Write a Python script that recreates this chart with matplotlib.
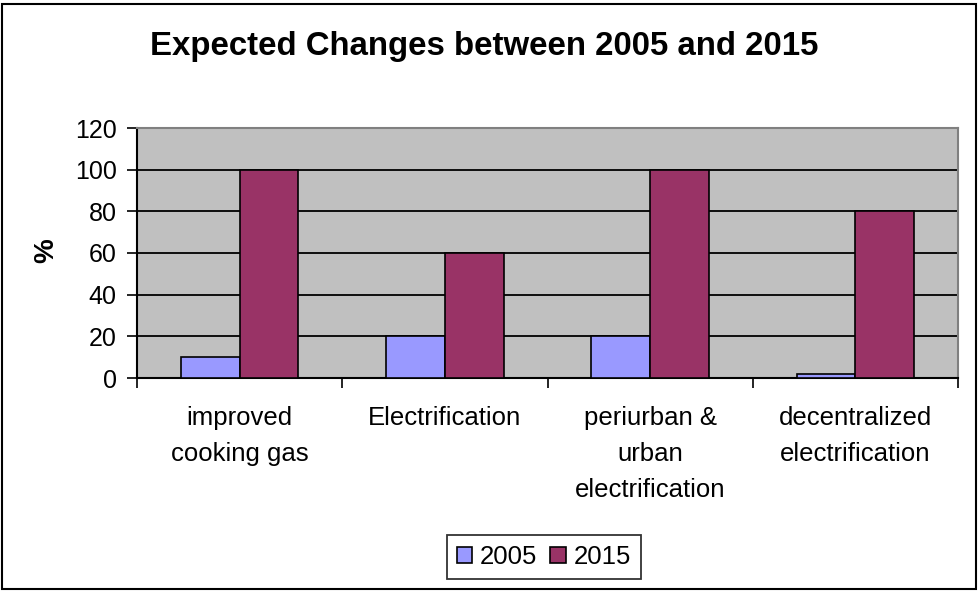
import matplotlib
matplotlib.use("Agg")
import matplotlib.pyplot as plt
import numpy as np
from matplotlib.patches import Rectangle

categories = ["improved\ncooking gas", "Electrification", "periurban &\nurban\nelectrification", "decentralized\nelectrification"]
series_names = ["2005", "2015"]
values_2005 = [10, 20, 20, 2]
values_2015 = [100, 60, 100, 80]
yticks = [0, 20, 40, 60, 80, 100, 120]

plt.rcParams['font.family'] = ['Liberation Sans', 'DejaVu Sans']

fig = plt.figure(figsize=(9.8, 5.91), dpi=100)
ax = fig.add_axes([137/980, 1-378/591, (958-137)/980, (378-128)/591])
ax.set_facecolor('#C0C0C0')

n = len(categories)
x = np.arange(n)
w = 1/3.5
ax.bar(x - w/2, values_2005, w, color='#9999FF', edgecolor='black', linewidth=1.2, label=series_names[0], zorder=3)
ax.bar(x + w/2, values_2015, w, color='#993366', edgecolor='black', linewidth=1.2, label=series_names[1], zorder=3)

ax.set_xlim(-0.5, n-0.5)
ax.set_ylim(0, 120)
ax.set_yticks(yticks)
ax.tick_params(axis='y', labelsize=18, direction='out', length=7, width=1.2, pad=7.5)
ax.yaxis.grid(True, color='black', linewidth=1.3, zorder=1)
ax.set_axisbelow(True)

ax.set_xticks(np.arange(-0.5, n, 1))
ax.set_xticklabels([])
ax.tick_params(axis='x', which='major', direction='out', length=7, width=1.2)
ax.set_xticks(x, minor=True)
ax.set_xticklabels(categories, minor=True, fontsize=18.5, linespacing=1.63)
ax.tick_params(axis='x', which='minor', length=0, pad=20.5)

for s in ['left', 'bottom']:
    ax.spines[s].set_color('black')
    ax.spines[s].set_linewidth(1.5)
for s in ['top', 'right']:
    ax.spines[s].set_color('#808080')
    ax.spines[s].set_linewidth(1.5)

fig.text(484/980, 1-47/591, "Expected Changes between 2005 and 2015", ha='center', va='center',
         fontsize=23.8, fontweight='bold')
fig.text(46/980, 1-251/591, "%", rotation=90, ha='center', va='center', fontsize=20, fontweight='bold')

leg = fig.legend(loc='center', bbox_to_anchor=(544/980, 1-557/591), ncol=2, fontsize=18.5,
                 frameon=True, fancybox=False, edgecolor='black', handlelength=0.6,
                 handleheight=0.6, handletextpad=0.3, columnspacing=0.5, borderpad=0.4)
leg.get_frame().set_linewidth(1.3)

fig.add_artist(Rectangle((2/980, 2/591), 974/980, 585/591, transform=fig.transFigure,
                         fill=False, edgecolor='black', linewidth=1.5))

fig.savefig("out.png", dpi=100)
